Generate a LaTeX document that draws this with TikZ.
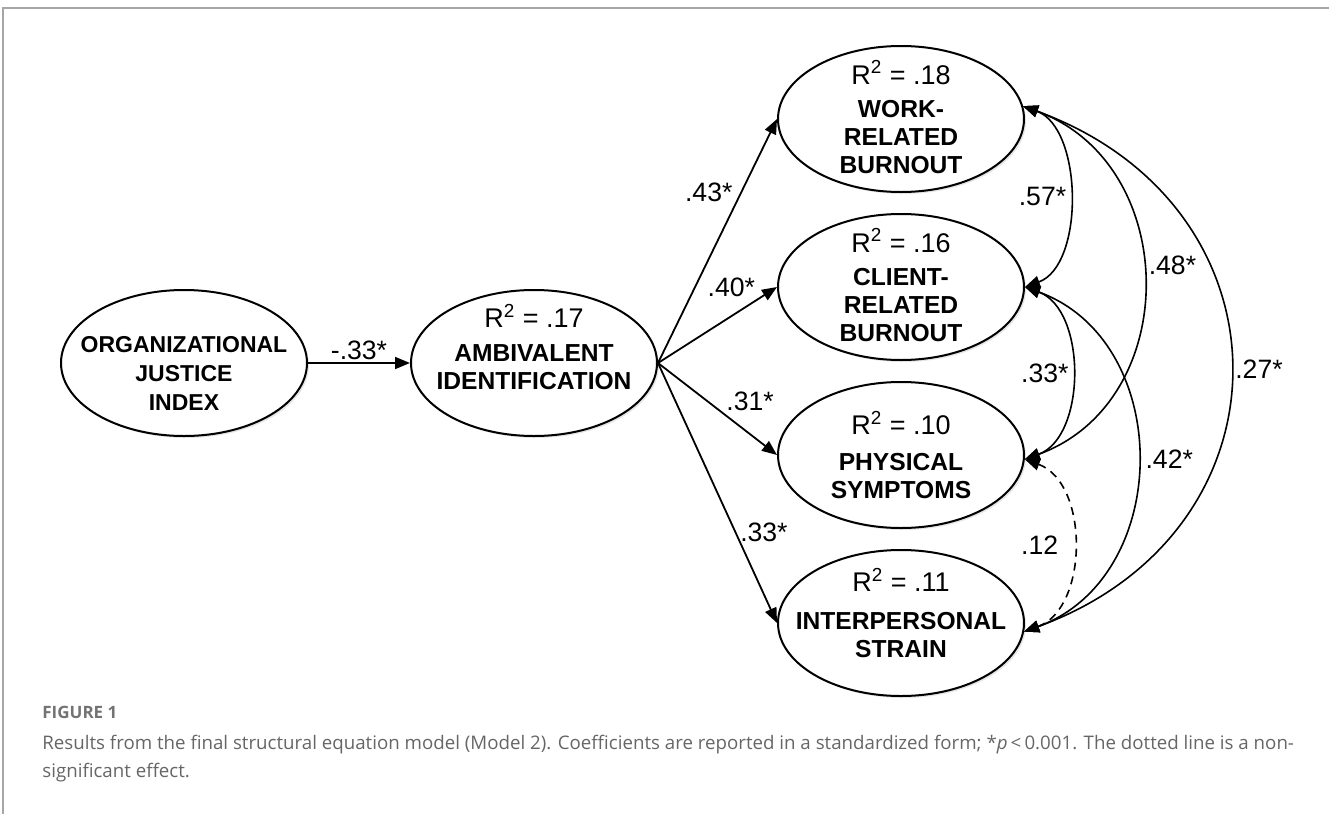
\documentclass[tikz,border=0pt]{standalone}
\usepackage{fontspec}
\setmainfont{Liberation Sans}
\newfontfamily\capfont{Open Sans}
\usetikzlibrary{arrows.meta,shapes.geometric,shadows}
\newcommand{\rsqfont}{\fontsize{13.5}{15}\selectfont\mdseries}

\begin{document}
\begin{tikzpicture}[
  x=0.5pt, y=0.5pt, >={Triangle[length=7.5pt,width=6pt]},
  lat/.style={ellipse, draw=black, line width=1pt, fill=white,
              minimum width=123pt, minimum height=73pt, inner sep=0pt,
              drop shadow={shadow xshift=1pt, shadow yshift=-1pt, opacity=0.25, fill=black!40}},
  ttl/.style={align=center, inner sep=0pt, font=\fontsize{12.3}{14}\selectfont\bfseries},
  arr/.style={->, line width=0.9pt},
  cov/.style={<->, line width=0.8pt},
  coef/.style={font=\fontsize{13.3}{15}\selectfont, inner sep=1pt}
]
\useasboundingbox (0,0) rectangle (1329,-814);

%% frame
\draw[black!35, line width=1pt] (3,-814) -- (3,-8) -- (1329,-8);

%% latent variables
\node[lat] (oji) at (184,-363) {};
\node[lat] (amb) at (534,-363) {};
\node[lat] (work) at (901,-119) {};
\node[lat] (client) at (901,-287) {};
\node[lat] (phys) at (901,-455) {};
\node[lat] (inter) at (901,-623) {};

%% texts inside
\node[ttl, yshift=-5pt, font=\fontsize{11.5}{14.5}\selectfont\bfseries] (oji-t) at (oji) {ORGANIZATIONAL\\JUSTICE\\INDEX};
\node[ttl, yshift=8pt] (amb-t) at (amb) {{\rsqfont R\textsuperscript{2} = .17}\\[3pt]AMBIVALENT\\IDENTIFICATION};
\node[ttl, yshift=1pt] (work-t) at (work) {{\rsqfont R\textsuperscript{2} = .18}\\[2.5pt]WORK-\\RELATED\\BURNOUT};
\node[ttl, yshift=1pt] (client-t) at (client) {{\rsqfont R\textsuperscript{2} = .16}\\[2.5pt]CLIENT-\\RELATED\\BURNOUT};
\node[ttl, yshift=0pt] (phys-t) at (phys) {{\rsqfont R\textsuperscript{2} = .10}\\[4pt]PHYSICAL\\SYMPTOMS};
\node[ttl, yshift=5pt] (inter-t) at (inter) {{\rsqfont R\textsuperscript{2} = .11}\\[5pt]INTERPERSONAL\\STRAIN};

%% paths
\draw[arr] (oji.east) -- node[coef, above] {-.33*} (amb.west);
\draw[arr] (amb.east) -- node[coef, pos=0.7, left=3pt] {.43*} (work.west);
\draw[arr] (amb.east) -- node[coef, pos=0.84, above left=0pt] {.40*} (client.west);
\draw[arr] (amb.east) -- node[coef, pos=0.55, above right=0pt] {.31*} (phys.west);
\draw[arr] (amb.east) -- node[coef, pos=0.65, right=1pt] {.33*} (inter.west);

%% covariances between the outcomes
\draw[cov] (work.6) to[out=-20, in=20, looseness=0.9] node[coef, left] {.57*} (client.east);
\draw[cov] (client.east) to[out=-20, in=20, looseness=0.98] node[coef, left] {.33*} (phys.-2);
\draw[cov] (work.6) to[out=-20, in=20, looseness=1.22] node[coef, pos=0.46, right=2pt] {.48*} (phys.-2);
\draw[cov] (client.east) to[out=-20, in=20, looseness=1.18] node[coef, right=3pt] {.42*} (inter.-4);
\draw[cov] (work.6) to[out=-20, in=20, looseness=1.42] node[coef, right=1.5pt] {.27*} (inter.-4);
\draw[cov, dash pattern=on 4pt off 3pt] (phys.-2) to[out=-20, in=20, looseness=1.02] node[coef, left=6pt] {.12} (inter.-4);

%% caption
\node[anchor=west, inner sep=0pt, text=black!55, font=\capfont\bfseries\fontsize{8.5}{10}\selectfont] (figlab) at (42,-712) {FIGURE 1};
\node[anchor=north west, inner sep=0pt, align=left, text=black!60, font=\capfont\fontsize{9.35}{14}\selectfont] (caption) at (42,-735)
  {Results from the final structural equation model (Model 2). Coefficients are reported in a standardized form; *\textit{p}\,<\,0.001. The dotted line is a non-\\significant effect.};
\end{tikzpicture}
\end{document}
